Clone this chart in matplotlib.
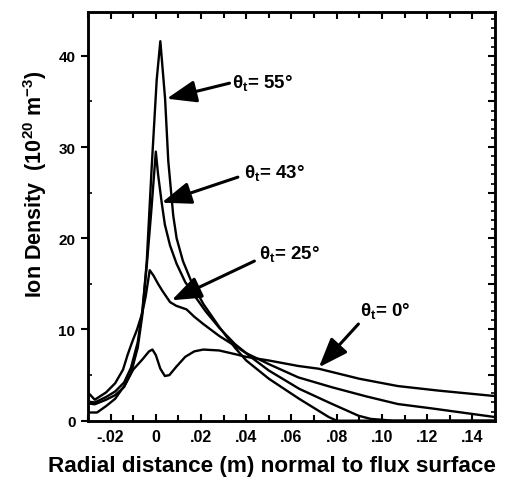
import matplotlib
matplotlib.use("Agg")
import matplotlib.pyplot as plt
from matplotlib.ticker import MultipleLocator, FixedLocator

plt.rcParams['font.family'] = ['Liberation Sans', 'DejaVu Sans']
plt.rcParams['font.weight'] = 'bold'
plt.rcParams['mathtext.fontset'] = 'custom'
plt.rcParams['mathtext.rm'] = 'Liberation Sans:bold'
plt.rcParams['mathtext.it'] = 'Liberation Sans:bold'
plt.rcParams['mathtext.bf'] = 'Liberation Sans:bold'

# ---- data ----
x_0 = [-0.030, -0.026, -0.022, -0.018, -0.014, -0.010, -0.006, -0.003, -0.0015, 0.000,
       0.002, 0.004, 0.006, 0.009, 0.013, 0.017, 0.021, 0.028, 0.035, 0.040, 0.050,
       0.063, 0.072, 0.090, 0.107, 0.125, 0.150]
y_0 = [0.9, 0.9, 1.6, 2.4, 3.8, 5.6, 6.7, 7.6, 7.8, 7.2,
       5.7, 4.9, 5.0, 5.9, 7.0, 7.6, 7.8, 7.7, 7.3, 7.0, 6.6,
       6.0, 5.7, 4.6, 3.8, 3.3, 2.7]

x_25 = [-0.030, -0.027, -0.022, -0.018, -0.0145, -0.0125, -0.0105, -0.0083, -0.006, -0.0045,
        -0.0027, -0.001, 0.001, 0.003, 0.0063, 0.009, 0.0136, 0.017, 0.021, 0.028,
        0.035, 0.040, 0.050, 0.063, 0.078, 0.093, 0.107, 0.122, 0.150]
y_25 = [3.1, 2.3, 3.1, 4.1, 5.6, 7.2, 8.6, 10.0, 11.8, 13.6,
        16.5, 15.9, 15.0, 14.2, 13.0, 12.6, 12.2, 11.4, 10.6, 9.3,
        8.2, 7.4, 6.2, 4.75, 3.66, 2.67, 1.83, 1.35, 0.4]

x_43 = [-0.030, -0.027, -0.022, -0.018, -0.014, -0.011, -0.008, -0.006, -0.004, -0.002,
        0.000, 0.001, 0.0026, 0.004, 0.0063, 0.0092, 0.013, 0.018, 0.022, 0.028,
        0.035, 0.043, 0.050, 0.0634, 0.0765, 0.0896, 0.095, 0.105, 0.150]
y_43 = [2.1, 2.0, 2.6, 3.2, 4.2, 5.8, 8.6, 12.0, 17.0, 23.0,
        29.5, 27.0, 23.9, 21.5, 19.2, 17.2, 15.2, 13.4, 12.0, 10.2,
        8.4, 6.8, 5.5, 3.5, 2.0, 0.55, 0.2, 0.0, 0.0]

x_55 = [-0.030, -0.027, -0.022, -0.018, -0.014, -0.011, -0.008, -0.006, -0.004, -0.0018,
        0.0004, 0.002, 0.0041, 0.0055, 0.0077, 0.0092, 0.012, 0.0158, 0.021, 0.028,
        0.035, 0.040, 0.050, 0.0634, 0.0765, 0.080, 0.150]
y_55 = [1.9, 1.8, 2.3, 2.8, 3.7, 5.2, 8.0, 11.5, 17.5, 27.9,
        37.4, 41.6, 35.3, 28.5, 22.5, 20.0, 17.5, 15.2, 12.8, 10.3,
        8.0, 6.6, 4.6, 2.4, 0.4, 0.0, 0.0]

labels = [r'$\theta_t$= 55°', r'$\theta_t$= 43°', r'$\theta_t$= 25°', r'$\theta_t$= 0°']
text_xy = [(0.0339, 37.1), (0.0392, 27.3), (0.0458, 18.4), (0.0904, 12.1)]
tail_xy = [(0.0326, 37.0), (0.0363, 26.7), (0.0436, 17.5), (0.0896, 10.6)]
tip_xy = [(0.0048, 35.3), (0.0026, 23.9), (0.0070, 13.2), (0.0721, 5.85)]

xticks = [-0.02, 0.0, 0.02, 0.04, 0.06, 0.08, 0.10, 0.12, 0.14]
xticklabels = ['-.02', '0', '.02', '.04', '.06', '.08', '.10', '.12', '.14']
yticks = [0, 10, 20, 30, 40]

# ---- figure ----
W, H = 510, 489
fig = plt.figure(figsize=(W / 100, H / 100), dpi=100)
ax = fig.add_axes([0.1725, 0.1376, 0.7981, 0.8358])

lw = 1.7
for xs, ys in [(x_0, y_0), (x_25, y_25), (x_43, y_43), (x_55, y_55)]:
    ax.plot(xs, ys, color='black', lw=lw, solid_joinstyle='round')

ax.set_xlim(-0.03, 0.15)
ax.set_ylim(0, 44.8)

for lab, txy, tail, tip in zip(labels, text_xy, tail_xy, tip_xy):
    ax.text(txy[0], txy[1], lab, fontsize=13.5, fontweight='bold', ha='left', va='center')
    ax.annotate('', xy=tip, xytext=tail,
                arrowprops=dict(arrowstyle='-|>,head_length=1.2,head_width=0.45',
                                mutation_scale=15, lw=2.2, color='black',
                                shrinkA=0, shrinkB=0))

for s in ax.spines.values():
    s.set_linewidth(1.8)

ax.xaxis.set_major_locator(FixedLocator(xticks))
ax.set_xticklabels(xticklabels)
ax.xaxis.set_minor_locator(MultipleLocator(0.01))
ax.yaxis.set_major_locator(FixedLocator(yticks))
ax.yaxis.set_minor_locator(MultipleLocator(5))

ax.tick_params(axis='x', which='both', direction='in', top=True, bottom=True,
               width=1.5, labelsize=11.5, pad=6)
ax.tick_params(axis='x', which='major', length=5)
ax.tick_params(axis='x', which='minor', length=4)
ax.tick_params(axis='y', which='major', direction='out', length=5, width=1.5,
               labelsize=11, right=False, pad=4)
ax.tick_params(axis='y', which='minor', direction='in', length=3, width=1.2, right=False)
for t in ax.get_xticklabels() + ax.get_yticklabels():
    t.set_fontweight('bold')

ax2 = ax.twinx()
ax2.set_ylim(ax.get_ylim())
ax2.yaxis.set_major_locator(MultipleLocator(5))
ax2.yaxis.set_minor_locator(MultipleLocator(1))
ax2.tick_params(axis='y', which='major', direction='in', length=5, width=1.5, labelright=False)
ax2.tick_params(axis='y', which='minor', direction='in', length=3, width=1.2)
for s in ax2.spines.values():
    s.set_linewidth(1.8)

fig.text(272 / W, 1 - 467 / H, 'Radial distance (m) normal to flux surface',
         fontsize=16.2, fontweight='bold', ha='center', va='center')
fig.text(35 / W, 1 - 184 / H, 'Ion Density  (10$^{20}$ m$^{-3}$)', fontsize=15.5,
         fontweight='bold', rotation=90, ha='center', va='center')

fig.savefig('out.png', dpi=100)
